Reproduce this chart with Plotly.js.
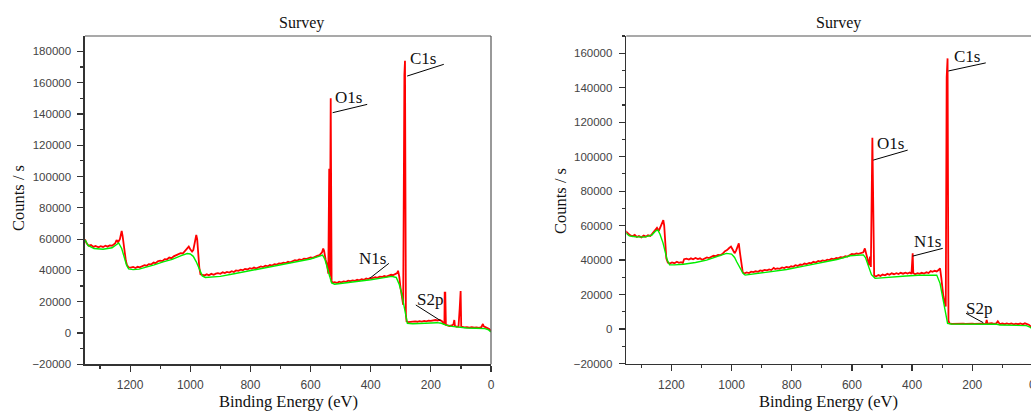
<!DOCTYPE html>
<html>
<head>
<meta charset="utf-8">
<script src="https://cdn.plot.ly/plotly-3.0.1.min.js"></script>
<style>
html,body{margin:0;padding:0;overflow:hidden;background:#fff;}
#chart{width:1040px;height:412px;}
</style>
</head>
<body>
<div id="chart"></div>
<script>
// ---------- DATA ----------
const leftRawX = [1350,1345,1338,1330,1322,1315,1305,1298,1290,1282,1275,1268,1260,1255,1250,1245,1240,1234,1228,1225,1222,1218,1214,1210,1205,1198,1190,1182,1175,1168,1160,1152,1145,1138,1130,1122,1115,1108,1100,1092,1085,1078,1070,1062,1055,1048,1040,1032,1025,1018,1012,1005,1000,994,990,985,980,977,974,970,966,960,952,945,938,930,922,915,908,900,892,885,878,870,862,855,848,840,832,825,818,810,802,795,788,780,772,765,758,750,742,735,728,720,712,705,698,690,682,675,668,660,652,645,638,630,622,615,608,600,592,585,578,570,562,558,555,550,545,541,538,536,533,530,526,520,512,505,498,490,482,475,468,460,452,445,438,430,422,415,408,402,398,392,385,378,370,362,355,348,340,332,325,318,312,309,305,301,298,295,292,288,286,283,281,276,268,260,252,245,238,230,222,215,208,200,192,185,178,170,163,158,155,154,152,150,145,138,130,125,122,120,114,108,104,101,99,95,88,80,72,64,56,48,40,32,27,24,18,12,6,0];
const leftRawY = [59800,57500,55800,56200,55000,55600,54800,55500,55000,55800,55200,56000,55800,56800,57200,59400,58000,60000,65300,62000,58000,50500,46000,43200,42000,41800,42200,41500,42300,42000,42800,43300,43000,44000,43800,45000,44600,45800,46200,46000,47200,47000,48200,47800,49000,49500,50200,51000,50800,52200,53500,55200,53500,52000,53000,58000,62600,60000,50000,42000,37500,37000,36800,37500,36900,37800,37200,37900,38200,37800,38800,38300,39000,38600,39500,39000,40000,39700,40500,40100,41000,40600,41400,41000,41800,41300,42000,42500,42100,43000,42600,43500,43100,44000,43700,44500,44300,45000,44700,45500,45200,46000,46500,46200,47000,46700,47500,47300,48000,48300,48000,48800,49300,49800,51500,54000,52500,47000,43500,38000,105000,36000,150000,33000,32200,32500,32000,32800,32400,33000,32700,33400,33100,33600,33300,34000,33700,34400,34000,34800,34500,35200,34800,35300,35600,35200,36000,35800,36400,36100,36800,37200,37000,37500,38300,39800,36000,29000,24000,21000,18000,165000,174000,12000,7500,7000,7200,7000,7400,7200,7600,7300,7700,7500,7900,7700,8100,8300,8000,8400,7500,6500,5500,25800,25800,5200,4800,4500,4800,5500,8300,4500,4000,4200,16000,26800,4000,3800,3600,3800,3500,3800,3400,3600,3300,3700,5800,4200,3500,3000,2500,1200];
const leftBgX = [1350,1340,1320,1290,1260,1245,1238,1228,1220,1212,1205,1190,1170,1150,1120,1090,1060,1030,1010,1000,990,980,970,960,950,920,900,850,800,750,700,650,600,575,560,552,545,538,530,520,500,450,400,360,330,315,305,298,292,287,282,278,260,220,180,165,150,130,110,100,80,50,20,8,0];
const leftBgY = [59500,56000,54000,53500,54500,56500,57500,54000,49000,43500,41000,40500,40800,41800,43500,45500,47000,49500,50800,50500,49000,45500,41000,36500,35500,35800,36200,38000,39800,41500,43300,45300,47300,48800,49800,47000,42500,36500,32000,31200,31600,32800,34000,35200,36200,35500,31000,26000,20000,14000,8000,6200,5900,6300,6600,6200,5000,4200,3700,3500,3200,3000,2800,2000,600];

const rightRawX = [1352,1345,1338,1330,1322,1315,1308,1300,1292,1285,1278,1270,1262,1255,1248,1242,1236,1230,1227,1224,1221,1217,1212,1205,1198,1190,1182,1175,1168,1162,1158,1150,1142,1135,1128,1120,1112,1105,1098,1090,1082,1075,1068,1060,1052,1045,1038,1030,1022,1015,1008,1002,996,990,985,980,976,972,968,963,958,950,942,935,928,920,912,905,898,890,882,875,868,860,855,848,840,832,825,818,810,802,795,788,780,772,765,758,750,742,735,728,720,712,705,698,690,682,675,668,660,652,645,638,630,622,615,608,600,592,585,578,570,562,557,553,548,543,540,537,532,529,526,520,512,505,498,490,482,475,468,460,452,445,438,430,422,415,408,402,398,396,390,382,375,368,360,352,345,338,332,325,318,312,307,303,300,296,292,288,285,282,279,276,268,260,252,245,238,230,222,215,208,200,192,185,178,170,162,155,152,149,142,135,128,120,115,112,108,100,92,85,78,70,62,55,48,40,32,25,18,12,6,0];
const rightRawY = [56800,55500,54500,53800,54600,53400,54000,53200,54200,53600,54400,54000,55500,57000,58700,57000,59500,61500,63200,60000,49000,41000,38500,38000,38600,38200,39000,38400,38800,38300,40500,40800,40300,41000,40500,41200,40600,41000,40200,40800,41500,41200,42000,42500,42300,43000,42800,43600,45200,45800,47000,47800,46000,44000,45500,48500,49700,44000,38000,33000,32200,32800,32500,33300,33000,33500,33200,34000,33700,34300,34000,34600,34200,35500,34800,35200,34900,35700,35400,36000,35700,36400,36100,37000,36600,37400,37200,38000,37700,38400,38100,39000,38600,39500,39100,39800,39500,40200,40000,40800,40500,41200,41000,41700,41500,42300,42000,42800,43500,43300,43800,43600,44000,44500,46800,44000,39000,37000,42000,36000,111000,80000,31000,30500,31300,30800,31600,31200,32000,31500,32300,31800,32400,31900,32600,32100,32700,32200,32800,32000,44000,32500,31800,32400,32000,32600,32200,32900,32500,33600,33200,33800,33400,34200,35200,30000,23000,19000,16000,13000,146000,157000,5000,3300,3000,3100,3000,3100,3000,3100,3000,3100,3000,3100,3000,3100,3000,3100,3000,3100,5200,3000,3200,3400,3000,3300,4500,3800,2800,3200,2800,3300,2900,3200,2700,3100,2800,3200,2700,3300,2800,2500,1500,500];
const rightBgX = [1352,1340,1320,1290,1265,1252,1245,1238,1228,1220,1214,1206,1190,1160,1120,1083,1050,1017,1000,990,983,972,962,955,930,900,870,817,760,700,650,606,585,562,555,546,535,523,500,460,420,380,340,318,307,300,294,288,282,270,200,150,118,107,60,20,10,4,0];
const rightBgY = [55800,54000,53500,53300,54500,57000,57400,55000,50000,44000,40000,37300,37200,37600,38600,40000,41800,43900,43500,41500,39000,35000,32300,31300,31800,32500,33300,34500,36500,38600,40300,42500,42900,43000,41500,36500,31500,29400,29800,30300,30800,31200,31400,31300,26500,20000,14900,8500,3300,2900,2900,2900,2800,2300,2200,2000,1300,400,0];

const peakLabels = ['O1s', 'C1s', 'N1s', 'S2p'];
const chartTitle = 'Survey';
const xTitle = 'Binding Energy (eV)';
const yTitle = 'Counts / s';

// ---------- LAYOUT ----------
const W = 1040, H = 412;
const fx = px => px / W;
const fy = py => 1 - py / H;
const axisColor = '#333';
const serif = 'Liberation Serif, Times New Roman, serif';
const sans = 'Liberation Sans, Arial, sans-serif';

function xAxis(domain, anchor) {
  return {
    domain: domain, anchor: anchor, range: [1350, 0], autorange: false,
    tick0: 0, dtick: 200, ticks: 'outside', ticklen: 6, tickwidth: 1.2, tickcolor: axisColor,
    ticklabelstandoff: 3,
    showline: true, linewidth: 1.6, linecolor: axisColor, showgrid: false, zeroline: false,
    tickfont: {family: sans, size: 12, color: '#444'},
    minor: {dtick: 100, ticks: 'outside', ticklen: 3, tickcolor: axisColor, tickwidth: 1.2, showgrid: false}
  };
}
function yAxis(domain, anchor, range) {
  return {
    domain: domain, anchor: anchor, range: range, autorange: false,
    tick0: 0, dtick: 20000, ticks: 'outside', ticklen: 6, tickwidth: 1.2, tickcolor: axisColor,
    ticklabelstandoff: 4, tickformat: 'd',
    showline: true, linewidth: 1.6, linecolor: axisColor, showgrid: false, zeroline: false,
    tickfont: {family: sans, size: 11.5, color: '#444'},
    minor: {dtick: 10000, ticks: 'outside', ticklen: 3, tickcolor: axisColor, tickwidth: 1.2, showgrid: false}
  };
}

const traces = [
  {x: leftRawX, y: leftRawY, xaxis: 'x', yaxis: 'y', mode: 'lines', line: {color: '#ff0000', width: 1.8}, hoverinfo: 'skip'},
  {x: leftBgX, y: leftBgY, xaxis: 'x', yaxis: 'y', mode: 'lines', line: {color: '#00ee00', width: 1.4}, hoverinfo: 'skip'},
  {x: rightRawX, y: rightRawY, xaxis: 'x2', yaxis: 'y2', mode: 'lines', line: {color: '#ff0000', width: 1.8}, hoverinfo: 'skip'},
  {x: rightBgX, y: rightBgY, xaxis: 'x2', yaxis: 'y2', mode: 'lines', line: {color: '#00ee00', width: 1.4}, hoverinfo: 'skip'}
];

const frame = [
  {type: 'line', xref: 'x domain', yref: 'y domain', x0: 0, x1: 1, y0: 1, y1: 1, line: {color: '#555', width: 1.2}},
  {type: 'line', xref: 'x domain', yref: 'y domain', x0: 1, x1: 1, y0: 0, y1: 1, line: {color: '#555', width: 1.2}},
  {type: 'line', xref: 'x2 domain', yref: 'y2 domain', x0: 0, x1: 1, y0: 1, y1: 1, line: {color: '#555', width: 1.2}}
];
function leader(xr, yr, x0, y0, x1, y1) {
  return {type: 'line', xref: xr, yref: yr, x0: x0, y0: y0, x1: x1, y1: y1, line: {color: '#000', width: 1}};
}
const leaders = [
  leader('x', 'y', 526.6, 140800, 411.7, 146100),
  leader('x', 'y', 278.8, 164200, 156.9, 171700),
  leader('x', 'y', 402.7, 35000, 339.6, 44500),
  leader('x', 'y', 249.9, 17900, 167.9, 7900),
  leader('x2', 'y2', 529.1, 98000, 414.6, 103800),
  leader('x2', 'y2', 279.5, 149700, 155.0, 154400),
  leader('x2', 'y2', 398.0, 42300, 298.1, 46800),
  leader('x2', 'y2', 220.6, 9100, 163.0, 3650)
];

function lab(xr, yr, x, y, t) {
  return {xref: xr, yref: yr, x: x, y: y, text: t, showarrow: false, xanchor: 'center', yanchor: 'middle',
          font: {family: serif, size: 17, color: '#111'}};
}
function ptext(px, py, t, size, angle) {
  return {xref: 'paper', yref: 'paper', x: fx(px), y: fy(py), text: t, showarrow: false,
          xanchor: 'center', yanchor: 'middle', textangle: angle || 0,
          font: {family: serif, size: size, color: '#111'}};
}
const annotations = [
  lab('x', 'y', 474, 150500, peakLabels[0]),
  lab('x', 'y', 226.7, 175100, peakLabels[1]),
  lab('x', 'y', 394.4, 47600, peakLabels[2]),
  lab('x', 'y', 203.4, 21400, peakLabels[3]),
  lab('x2', 'y2', 471.8, 107600, peakLabels[0]),
  lab('x2', 'y2', 218.2, 157900, peakLabels[1]),
  lab('x2', 'y2', 349.7, 50600, peakLabels[2]),
  lab('x2', 'y2', 178, 12000, peakLabels[3]),
  ptext(301, 23, chartTitle, 16),
  ptext(838, 23, chartTitle, 16),
  ptext(288, 401, xTitle, 16.5),
  ptext(828, 401, xTitle, 16.5),
  ptext(18, 198, yTitle, 16.5, -90),
  ptext(560, 201, yTitle, 16.5, -90)
];

const layout = {
  width: W, height: H,
  margin: {l: 0, r: 0, t: 0, b: 0, pad: 0},
  paper_bgcolor: '#fff', plot_bgcolor: '#fff',
  showlegend: false,
  xaxis: xAxis([fx(85), fx(491)], 'y'),
  yaxis: yAxis([fy(364.3), fy(36)], 'x', [-20000, 189800]),
  xaxis2: xAxis([fx(626.3), fx(1032.4)], 'y2'),
  yaxis2: yAxis([fy(363.5), fy(36)], 'x2', [-20000, 170000]),
  shapes: frame.concat(leaders),
  annotations: annotations
};

Plotly.newPlot('chart', traces, layout, {staticPlot: true, displayModeBar: false});
</script>
</body>
</html>
